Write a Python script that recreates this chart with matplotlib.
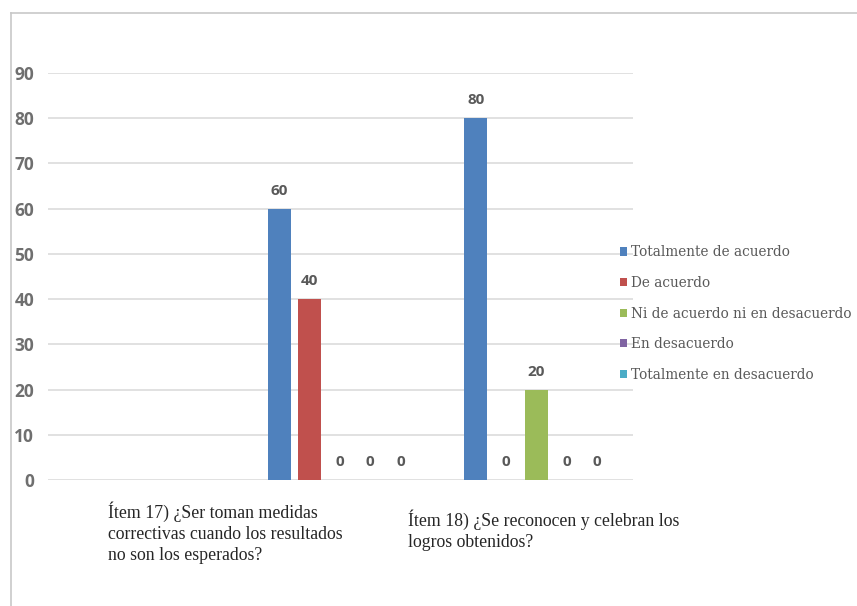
import numpy as np
import matplotlib
matplotlib.use('Agg')
import matplotlib.pyplot as plt
from matplotlib.lines import Line2D
from matplotlib.patches import Patch

categories = ['Ítem 17) ¿Ser toman medidas\ncorrectivas cuando los resultados\nno son los esperados?',
              'Ítem 18) ¿Se reconocen y celebran los\nlogros obtenidos?']

series_names = ['Totalmente de acuerdo', 'De acuerdo',
                'Ni de acuerdo ni en desacuerdo', 'En desacuerdo',
                'Totalmente en desacuerdo']

values = [[60, 80],
          [40, 0],
          [0, 20],
          [0, 0],
          [0, 0]]

colors = ['#4F81BD', '#C0504D', '#9BBB59', '#8064A2', '#4BACC6']

W, H = 857, 606
fig = plt.figure(figsize=(W / 100, H / 100), dpi=100)
ax = fig.add_axes([48 / W, 1 - 480 / H, (633 - 48) / W, (480 - 73) / H])

x = np.arange(len(categories))
step = 0.154
width = 0.117

for i, name in enumerate(series_names):
    pos = x + (i - 2) * step
    ax.bar(pos, values[i], width=width, color=colors[i], label=name, zorder=3)
    for xp, v in zip(pos, values[i]):
        ax.annotate(str(v), (xp, v), xytext=(0, 13), textcoords='offset points',
                    ha='center', va='center', fontsize=11, fontweight='bold',
                    color='#595959', family='Open Sans')

ax.set_xlim(-1.486, 1.491)
ax.set_ylim(0, 90)
ax.set_yticks(range(0, 91, 10))
ax.set_xticks([])
for s in ax.spines.values():
    s.set_visible(False)
ax.yaxis.grid(True, color='#d9d9d9', linewidth=1.1, zorder=0)
ax.tick_params(axis='y', length=0, pad=10, labelsize=12.5, labelcolor='#6f6f6f')
for lbl in ax.get_yticklabels():
    lbl.set_fontweight('bold')
    lbl.set_family('Open Sans')

# category labels below the axis
fig.text(108 / W, 1 - 501 / H, categories[0], ha='left', va='top',
         family='Liberation Serif', fontsize=12.8, color='#262626',
         linespacing=1.32)
fig.text(408 / W, 1 - 509 / H, categories[1], ha='left', va='top',
         family='Liberation Serif', fontsize=12.8, color='#262626',
         linespacing=1.32)

handles = [Patch(facecolor=c) for c in colors]
leg = fig.legend(handles, series_names, loc='center left',
                 bbox_to_anchor=(620 / W, 1 - 313.5 / H), frameon=False,
                 handlelength=0.55, handleheight=0.55, handletextpad=0.25,
                 labelspacing=1.22, borderpad=0, borderaxespad=0,
                 prop={'family': 'DejaVu Serif', 'size': 9.8})
for t in leg.get_texts():
    t.set_color('#595959')

# outer frame lines
fig.add_artist(Line2D([10.5 / W, 1], [1 - 12.5 / H] * 2, color='#c8c8c8', lw=1.2))
fig.add_artist(Line2D([10.5 / W] * 2, [0, 1 - 12.5 / H], color='#c8c8c8', lw=1.2))

fig.savefig('out.png', dpi=100)
